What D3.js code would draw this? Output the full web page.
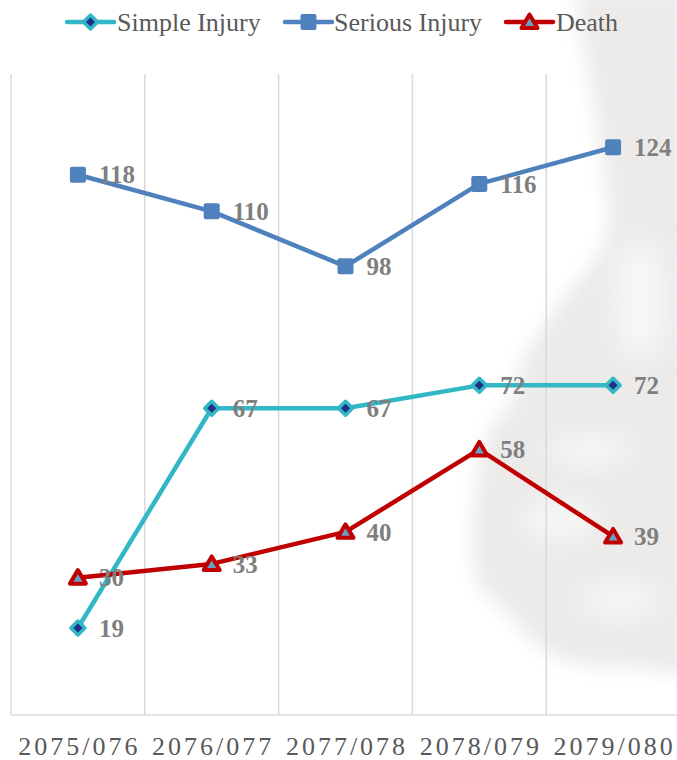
<!DOCTYPE html>
<html><head><meta charset="utf-8">
<script src="https://cdn.jsdelivr.net/npm/d3@7"></script>
<style>html,body{margin:0;padding:0;background:#fff;}svg{display:block;}</style>
</head><body>
<svg id="chart" width="677" height="760"></svg>
<script>
const categories = ["2075/076","2076/077","2077/078","2078/079","2079/080"];
const simpleInjury = [19, 67, 67, 72, 72];
const seriousInjury = [118, 110, 98, 116, 124];
const death = [30, 33, 40, 58, 39];
const seriesNames = ["Simple Injury","Serious Injury","Death"];
const yDomain = [0, 140];

const svg = d3.select("#chart");
const W = 677, H = 760;
const plotLeft = 11, plotRight = 680, plotTop = 74, plotBottom = 715;

// faint background watermark
const defs = svg.append("defs");
defs.append("filter").attr("id","blur").attr("x","-20%").attr("y","-20%").attr("width","140%").attr("height","140%")
  .append("feGaussianBlur").attr("stdDeviation", 9);
defs.append("filter").attr("id","blur2").attr("x","-50%").attr("y","-50%").attr("width","200%").attr("height","200%")
  .append("feGaussianBlur").attr("stdDeviation", 12);
const wm = [[575,-10],[582,40],[596,120],[605,240],[560,302],[520,366],[513,400],[490,430],[477,480],[477,580],[507,613],[540,647],[573,663],[640,668],[690,668],[690,-10]];
svg.append("path").attr("d", d3.line().curve(d3.curveCatmullRom)(wm))
  .attr("fill","#ecebea").attr("filter","url(#blur)");
// lighter inner patches
[[590,450,40,14],[560,520,35,20],[620,600,40,15],[640,300,25,60]].forEach(e => {
  svg.append("ellipse").attr("cx",e[0]).attr("cy",e[1]).attr("rx",e[2]).attr("ry",e[3])
    .attr("fill","#f7f7f6").attr("filter","url(#blur2)");
});

const x = d3.scalePoint().domain(categories).range([plotLeft, plotRight]).padding(0.5);
const step = x.step();
const y = d3.scaleLinear().domain(yDomain).range([plotBottom, plotTop]);

// vertical gridlines at category boundaries
const bounds = categories.map(c => x(c) - step/2);
svg.append("g").selectAll("line").data(bounds).join("line")
  .attr("x1", d => d).attr("x2", d => d).attr("y1", plotTop).attr("y2", plotBottom)
  .attr("stroke","#d9d9d9").attr("stroke-width",1.5);
// bottom axis
svg.append("line").attr("x1", plotLeft).attr("x2", W).attr("y1", plotBottom).attr("y2", plotBottom)
  .attr("stroke","#d9d9d9").attr("stroke-width",1.5);

// x labels
svg.append("g").selectAll("text").data(categories).join("text")
  .attr("x", d => x(d) + 1.5).attr("y", 755)
  .attr("text-anchor","middle")
  .attr("font-family","'Liberation Serif','Times New Roman',serif")
  .attr("font-size",26).attr("letter-spacing",3).attr("fill","#595959")
  .text(d => d);

const series = [
  {name: seriesNames[0], values: simpleInjury, color: "#31b7c6", marker: "diamond"},
  {name: seriesNames[1], values: seriousInjury, color: "#4f81bd", marker: "square"},
  {name: seriesNames[2], values: death, color: "#c00000", marker: "triangle"}
];

function drawMarker(g, type, color){
  if (type === "diamond") {
    g.append("path").attr("d","M0,-7L7,0L0,7L-7,0Z")
      .attr("fill","#1f2f86").attr("stroke",color).attr("stroke-width",3.5).attr("stroke-linejoin","round");
  } else if (type === "square") {
    g.append("rect").attr("x",-8).attr("y",-8).attr("width",16).attr("height",16).attr("rx",2)
      .attr("fill",color);
  } else {
    g.append("path").attr("d","M0,-7.5L8,6L-8,6Z")
      .attr("fill","#6aa0c8").attr("stroke",color).attr("stroke-width",4).attr("stroke-linejoin","round");
  }
}

const line = d3.line().x((d,i) => x(categories[i])).y(d => y(d));

// draw order: serious, simple, death (death on top)
const order = [1, 0, 2];
order.forEach(si => {
  const s = series[si];
  svg.append("path").datum(s.values).attr("d", line)
    .attr("fill","none").attr("stroke", s.color).attr("stroke-width",4.5).attr("stroke-linejoin","round");
});
order.forEach(si => {
  const s = series[si];
  s.values.forEach((v,i) => {
    const g = svg.append("g").attr("transform", `translate(${x(categories[i])},${y(v)})`);
    drawMarker(g, s.marker, s.color);
  });
});
// data labels
order.forEach(si => {
  const s = series[si];
  svg.append("g").selectAll("text").data(s.values).join("text")
    .attr("x", (d,i) => x(categories[i]) + 21).attr("y", d => y(d))
    .attr("dy","0.35em")
    .attr("font-family","'Liberation Serif','Times New Roman',serif")
    .attr("font-weight","bold").attr("font-size",25).attr("fill","#7f7f7f")
    .text(d => d);
});

// legend
const legendPos = [{lx:67, tx:117},{lx:285, tx:334},{lx:506, tx:556}];
series.forEach((s,i) => {
  const p = legendPos[i];
  const ly = 22;
  svg.append("line").attr("x1", p.lx).attr("x2", p.lx + 47).attr("y1", ly).attr("y2", ly)
    .attr("stroke", s.color).attr("stroke-width",4.5).attr("stroke-linecap","round");
  const g = svg.append("g").attr("transform", `translate(${p.lx + 23.5},${ly})`);
  drawMarker(g, s.marker, s.color);
  svg.append("text").attr("x", p.tx).attr("y", ly).attr("dy","0.33em")
    .attr("font-family","'Liberation Serif','Times New Roman',serif")
    .attr("font-size",26).attr("fill","#595959").text(s.name);
});
</script>
</body></html>
